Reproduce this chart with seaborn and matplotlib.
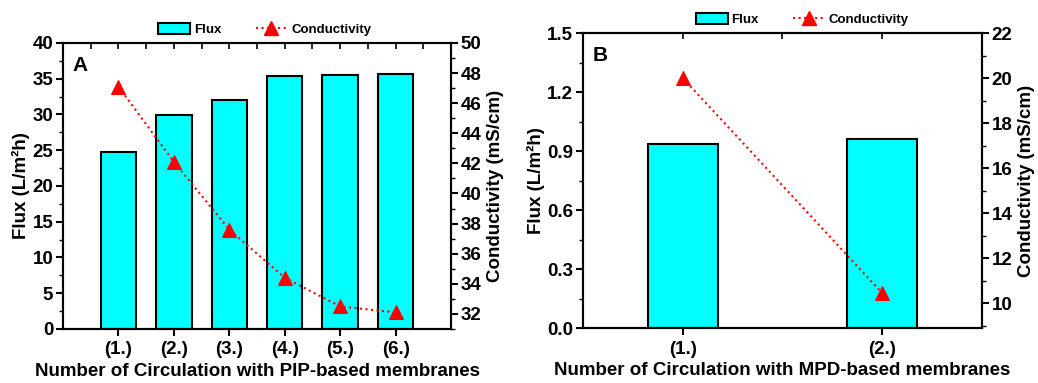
import numpy as np
import pandas as pd
import seaborn as sns
import matplotlib.pyplot as plt
from matplotlib.ticker import MultipleLocator
from matplotlib.patches import Patch
from matplotlib.lines import Line2D

# data
pip_labels = ['(1.)', '(2.)', '(3.)', '(4.)', '(5.)', '(6.)']
pip_flux = [24.75, 29.9, 32.0, 35.4, 35.55, 35.65]
pip_cond = [47.1, 42.1, 37.6, 34.4, 32.5, 32.1]

mpd_labels = ['(1.)', '(2.)']
mpd_flux = [0.935, 0.96]
mpd_cond = [20.0, 10.45]

sns.set_style('ticks')
plt.rcParams['font.family'] = ['Liberation Sans', 'DejaVu Sans']
plt.rcParams['font.weight'] = 'bold'
plt.rcParams['axes.labelweight'] = 'bold'
plt.rcParams['axes.linewidth'] = 1.5
for k in ['text.color', 'axes.labelcolor', 'xtick.color', 'ytick.color', 'axes.edgecolor']:
    plt.rcParams[k] = 'black'

fig = plt.figure(figsize=(10.38, 3.83), dpi=100)
axA = fig.add_axes([0.0607, 0.141, 0.3738, 0.747])
axB = fig.add_axes([0.5617, 0.1436, 0.3843, 0.7702])


def panel(ax, labels, flux, cond, width, flim, fstep, fminor, clim, xlabel, tag,
          fluxfmt, legx):
    df = pd.DataFrame({'run': labels, 'flux': flux, 'cond': cond})
    sns.barplot(data=df, x='run', y='flux', ax=ax, width=width, color='#00FFFF',
                saturation=1, edgecolor='black', linewidth=1.5)
    n = len(labels)
    pad = 1.0 if n > 2 else 0.5
    ax.set_xlim(-pad, n - 1 + pad)
    ax.set_ylim(*flim)
    ax.yaxis.set_major_locator(MultipleLocator(fstep))
    ax.yaxis.set_minor_locator(MultipleLocator(fminor))
    ax.yaxis.set_major_formatter(fluxfmt)
    # top edge: small inward ticks every half step; bottom: outward major ticks
    ax.xaxis.set_minor_locator(MultipleLocator(0.5))
    ax.xaxis.remove_overlapping_locs = False
    ax.tick_params(axis='x', which='minor', bottom=False, top=True, direction='in', length=4, width=1.2)
    ax.tick_params(axis='x', which='major', top=False, direction='out', length=5, width=1.5,
                   labelsize=13.5, pad=4)
    ax.tick_params(axis='y', which='major', direction='out', length=5, width=1.5, labelsize=13.5, pad=2)
    ax.tick_params(axis='y', which='minor', direction='out', length=3, width=1)
    ax.set_xlabel(xlabel, fontsize=13.5, fontweight='bold', labelpad=3)
    ax.set_ylabel('Flux (L/m²h)', fontsize=13.5, fontweight='bold', labelpad=2)
    ax.text(0.025, 0.955, tag, transform=ax.transAxes, fontsize=15, fontweight='bold',
            va='top', ha='left')
    for s in ax.spines.values():
        s.set_color('black')
        s.set_linewidth(1.5)

    ax2 = ax.twinx()
    sns.lineplot(x=np.arange(n), y=cond, ax=ax2, color='red', linestyle=':', linewidth=1.5,
                 marker='^', markersize=10, markeredgecolor='red')
    ax2.set_ylim(*clim)
    ax2.yaxis.set_major_locator(MultipleLocator(2))
    ax2.yaxis.set_minor_locator(MultipleLocator(1))
    ax2.tick_params(axis='y', which='major', direction='out', length=5, width=1.5, labelsize=13.5, pad=2)
    ax2.tick_params(axis='y', which='minor', direction='out', length=3, width=1)
    ax2.set_ylabel('Conductivity (mS/cm)', fontsize=13.5, fontweight='bold', labelpad=4)
    for s in ax2.spines.values():
        s.set_linewidth(1.5)

    handles = [Patch(facecolor='#00FFFF', edgecolor='black', linewidth=1.5),
               Line2D([], [], color='red', linestyle=':', linewidth=1.5, marker='^',
                      markersize=10)]
    ax.legend(handles, ['Flux', 'Conductivity'], loc='lower center', ncol=2,
              bbox_to_anchor=(legx, 1.0), frameon=False, fontsize=9.5, handlelength=2.4,
              handleheight=0.9, columnspacing=2.6, handletextpad=0.3, borderaxespad=0.1)


panel(axA, pip_labels, pip_flux, pip_cond, 0.64, (0, 40), 5, 2.5, (31, 50),
      'Number of Circulation with PIP-based membranes', 'A', '{x:.0f}', 0.52)
panel(axB, mpd_labels, mpd_flux, mpd_cond, 0.35, (0, 1.5), 0.3, 0.15, (8.9, 22),
      'Number of Circulation with MPD-based membranes', 'B', '{x:.1f}', 0.55)

fig.savefig('out.png', dpi=100)
